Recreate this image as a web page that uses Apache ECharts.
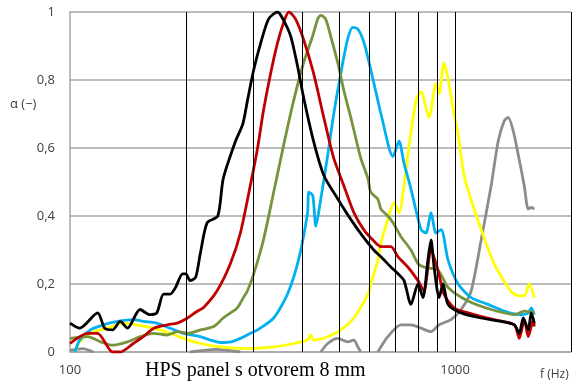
<!DOCTYPE html>
<html>
<head>
<meta charset="utf-8">
<script src="https://cdn.jsdelivr.net/npm/echarts@6/dist/echarts.min.js"></script>
<style>
html,body{margin:0;padding:0;background:#fff;}
#c{width:576px;height:387px;}
</style>
</head>
<body>
<div id="c"></div>
<script>
// Frequencies (Hz) and absorption coefficient alpha
var blackData = [[100,0.085],[106,0.07],[118,0.115],[123,0.07],[129,0.065],[135,0.09],[141,0.07],[152,0.125],[161,0.11],[168,0.115],[175,0.17],[182,0.17],[188,0.19],[196,0.23],[200,0.23],[205,0.21],[212,0.22],[218,0.29],[227,0.38],[242,0.40],[250,0.51],[269,0.62],[281,0.67],[289,0.74],[300,0.83],[313,0.91],[328,0.98],[346,1.0],[357,0.98],[374,0.93],[390,0.84],[404,0.75],[429,0.62],[456,0.52],[496,0.45],[536,0.39],[576,0.34],[615,0.30],[642,0.28],[681,0.25],[711,0.23],[737,0.21],[768,0.14],[801,0.20],[825,0.16],[850,0.27],[866,0.33],[882,0.25],[909,0.16],[931,0.20],[959,0.14],[1037,0.115],[1169,0.10],[1318,0.09],[1425,0.08],[1468,0.055],[1503,0.10],[1549,0.065],[1577,0.115],[1606,0.085]];
var redData = [[100,0.025],[111,0.055],[118,0.055],[129,0],[135,0],[146,0.025],[155,0.045],[165,0.07],[179,0.08],[190,0.085],[202,0.10],[214,0.12],[222,0.13],[241,0.18],[261,0.26],[277,0.35],[294,0.49],[307,0.60],[318,0.71],[332,0.82],[346,0.91],[359,0.97],[370,1.0],[385,0.98],[404,0.92],[429,0.82],[456,0.69],[484,0.57],[514,0.49],[546,0.41],[579,0.36],[611,0.33],[642,0.31],[681,0.31],[711,0.28],[754,0.25],[801,0.21],[830,0.18],[866,0.30],[903,0.24],[936,0.17],[994,0.13],[1121,0.11],[1263,0.095],[1425,0.08],[1468,0.04],[1512,0.095],[1549,0.045],[1596,0.095],[1606,0.075]];
var greenData = [[100,0.04],[111,0.045],[120,0.03],[129,0.02],[141,0.03],[152,0.045],[165,0.055],[179,0.05],[190,0.06],[202,0.055],[218,0.065],[236,0.075],[250,0.10],[261,0.115],[272,0.13],[282,0.16],[289,0.18],[300,0.23],[318,0.33],[338,0.47],[359,0.61],[381,0.74],[404,0.85],[427,0.93],[440,0.98],[448,0.99],[461,0.98],[475,0.93],[496,0.85],[514,0.77],[536,0.69],[569,0.57],[594,0.51],[604,0.47],[630,0.45],[642,0.42],[669,0.40],[690,0.38],[723,0.34],[768,0.30],[801,0.26],[830,0.25],[903,0.24],[959,0.19],[1081,0.15],[1241,0.125],[1425,0.11],[1512,0.12],[1606,0.115]];
var blueData = [[103,0],[106,0.035],[113,0.065],[122,0.08],[133,0.09],[146,0.095],[155,0.09],[168,0.085],[182,0.07],[197,0.055],[218,0.045],[232,0.035],[246,0.028],[262,0.03],[277,0.04],[294,0.055],[307,0.065],[338,0.10],[367,0.17],[392,0.27],[414,0.41],[417,0.47],[427,0.46],[435,0.37],[448,0.45],[467,0.58],[484,0.70],[505,0.82],[526,0.92],[542,0.955],[559,0.95],[580,0.91],[604,0.83],[630,0.74],[642,0.70],[690,0.575],[715,0.62],[737,0.555],[768,0.48],[816,0.36],[840,0.35],[866,0.41],[892,0.35],[920,0.36],[959,0.27],[1018,0.20],[1101,0.16],[1219,0.14],[1342,0.12],[1459,0.11],[1549,0.115],[1577,0.13],[1606,0.11]];
var yellowData = [[103,0],[106,0.03],[113,0.055],[125,0.07],[137,0.085],[149,0.08],[165,0.07],[182,0.055],[197,0.04],[218,0.025],[246,0.015],[289,0.01],[338,0.015],[381,0.025],[414,0.035],[422,0.05],[429,0.035],[467,0.045],[505,0.065],[546,0.10],[594,0.17],[604,0.20],[630,0.27],[642,0.32],[669,0.39],[694,0.44],[715,0.41],[737,0.49],[754,0.58],[792,0.74],[816,0.765],[856,0.69],[892,0.79],[909,0.76],[936,0.85],[960,0.80],[994,0.70],[1018,0.64],[1060,0.51],[1169,0.36],[1263,0.26],[1374,0.19],[1425,0.17],[1512,0.165],[1558,0.20],[1606,0.16]];
var grayData = [[100,0.005],[108,0.01],[115,0],null,[205,0],[240,0.008],[277,0],null,[448,0],[467,0.025],[496,0.04],[526,0.03],[546,0.035],[559,0.015],[569,0],null,[630,0],[669,0.045],[723,0.08],[768,0.08],[816,0.07],[866,0.06],[909,0.08],[976,0.095],[1037,0.125],[1101,0.18],[1169,0.33],[1241,0.49],[1294,0.62],[1342,0.68],[1374,0.69],[1416,0.65],[1459,0.58],[1512,0.49],[1549,0.42],[1577,0.425],[1606,0.42]];

var xTickLabels = [100, 1000];
var xGridLines = [200, 300, 400, 500, 600, 700, 800, 900, 1000, 2000];
var yTicks = [0, 0.2, 0.4, 0.6, 0.8, 1];
var chartTitle = 'HPS panel s otvorem 8 mm';
var xName = 'f (Hz)';
var yName = 'α (−)';

var seriesList = [
  {name:'gray', data:grayData, color:'#8C8C8C'},
  {name:'yellow', data:yellowData, color:'#FFFF00'},
  {name:'blue', data:blueData, color:'#00B0F0'},
  {name:'green', data:greenData, color:'#77933C'},
  {name:'red', data:redData, color:'#C00000'},
  {name:'black', data:blackData, color:'#000000'}
];

var chart = echarts.init(document.getElementById('c'), null, {renderer:'canvas'});
var series = [{
  type:'line', data:[], silent:true,
  markLine:{
    silent:true, symbol:['none','none'], label:{show:false},
    lineStyle:{color:'#000', width:1, type:'solid'},
    data: xGridLines.map(function(v){return {xAxis:v};})
  }
}];
seriesList.forEach(function(s){
  series.push({
    type:'line', name:s.name, data:s.data, showSymbol:false, smooth:0.25,
    connectNulls:false, clip:true,
    lineStyle:{color:s.color, width:2.8}, itemStyle:{color:s.color}
  });
});

chart.setOption({
  animation:false,
  grid:{left:70, right:5, top:12, bottom:35},
  xAxis:{
    type:'log', logBase:10, min:100, max:2000,
    axisLine:{show:true, lineStyle:{color:'#A6A6A6', width:1.5}},
    axisTick:{show:false},
    splitLine:{show:false},
    axisLabel:{
      margin:12, color:'#404040', fontSize:13, fontFamily:'Open Sans',
      showMaxLabel:false,
      formatter:function(v){
        var r = Math.round(v);
        return xTickLabels.indexOf(r) >= 0 ? String(r) : '';
      }
    }
  },
  yAxis:{
    type:'value', min:0, max:1, interval:0.2,
    axisLine:{show:true, lineStyle:{color:'#A6A6A6', width:1.5}},
    axisTick:{show:false},
    splitLine:{show:true, lineStyle:{color:'#A6A6A6', width:1.5}},
    axisLabel:{
      margin:15, color:'#404040', fontSize:13, fontFamily:'Open Sans',
      formatter:function(v){
        var r = Math.round(v*10)/10;
        return yTicks.indexOf(r) >= 0 ? String(r).replace('.', ',') : '';
      }
    }
  },
  graphic:[
    {type:'text', left:10, top:98, style:{text:yName, fill:'#404040', font:'13px "Open Sans"'}},
    {type:'text', left:145, top:361, style:{text:chartTitle, fill:'#000', font:'20px "Liberation Serif"'}},
    {type:'text', left:540, top:369, style:{text:xName, fill:'#404040', font:'12px "Open Sans"'}}
  ],
  series:series
});
</script>
</body>
</html>
